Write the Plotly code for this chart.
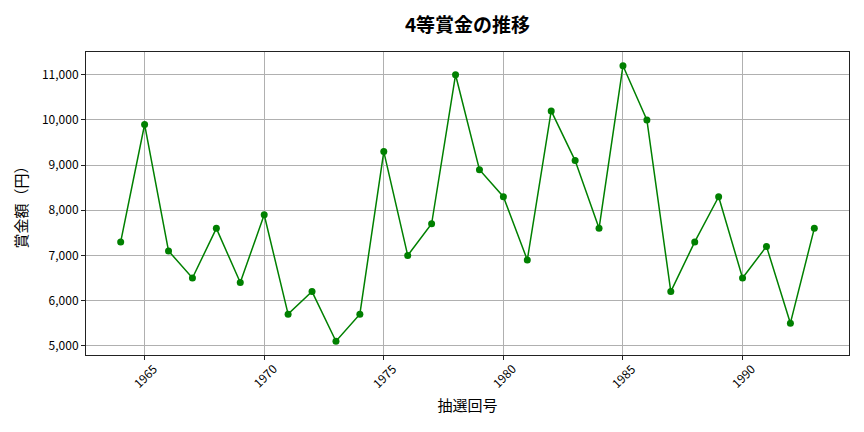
import plotly.graph_objects as go

years = list(range(1964, 1994))
prizes = [7300, 9900, 7100, 6500, 7600, 6400, 7900, 5700, 6200, 5100,
          5700, 9300, 7000, 7700, 11000, 8900, 8300, 6900, 10200, 9100,
          7600, 11200, 10000, 6200, 7300, 8300, 6500, 7200, 5500, 7600]
x_ticks = [1965, 1970, 1975, 1980, 1985, 1990]
y_ticks = [5000, 6000, 7000, 8000, 9000, 10000, 11000]

font = "Noto Sans CJK JP"

fig = go.Figure()
fig.add_trace(go.Scatter(
    x=years, y=prizes, mode="lines+markers",
    line=dict(color="#008000", width=1.5),
    marker=dict(color="#008000", size=7),
    showlegend=False,
))

xmin, xmax = min(years), max(years)
ymin, ymax = min(prizes), max(prizes)
xpad = (xmax - xmin) * 0.05
ypad = (ymax - ymin) * 0.05

# rotated x tick labels centred on their ticks (matplotlib style)
for t in x_ticks:
    fig.add_annotation(x=t, xref="x", y=0, yref="paper", text=str(t),
                       showarrow=False, textangle=-45, xanchor="center",
                       yanchor="middle", yshift=-20, font=dict(size=12, family=font))

fig.update_layout(
    width=864, height=432,
    margin=dict(l=78, r=23, t=44, b=85, autoexpand=False),
    plot_bgcolor="white", paper_bgcolor="white",
    font=dict(family=font, color="black"),
    title=dict(text="<b>4等賞金の推移</b>", x=(78 + 841) / 2 / 864, xanchor="center",
               y=1 - 17 / 432, yanchor="middle", font=dict(size=19, family=font)),
    xaxis=dict(
        range=[xmin - xpad, xmax + xpad],
        tickmode="array", tickvals=x_ticks, showticklabels=False,
        showgrid=True, gridcolor="#b0b0b0", gridwidth=0.8,
        showline=True, linecolor="#222", linewidth=1, mirror=True,
        ticks="outside", ticklen=4, tickcolor="#222",
        zeroline=False,
        title=dict(text="抽選回号", font=dict(size=15), standoff=41),
    ),
    yaxis=dict(
        range=[ymin - ypad, ymax + ypad],
        tickmode="array", tickvals=y_ticks, ticktext=[f"{v:,}" for v in y_ticks],
        tickfont=dict(size=12),
        showgrid=True, gridcolor="#b0b0b0", gridwidth=0.8,
        showline=True, linecolor="#222", linewidth=1, mirror=True,
        ticks="outside", ticklen=4, tickcolor="#222",
        zeroline=False,
        title=dict(text="賞金額（円）", font=dict(size=15), standoff=10),
    ),
)

fig.write_html("out.html")
